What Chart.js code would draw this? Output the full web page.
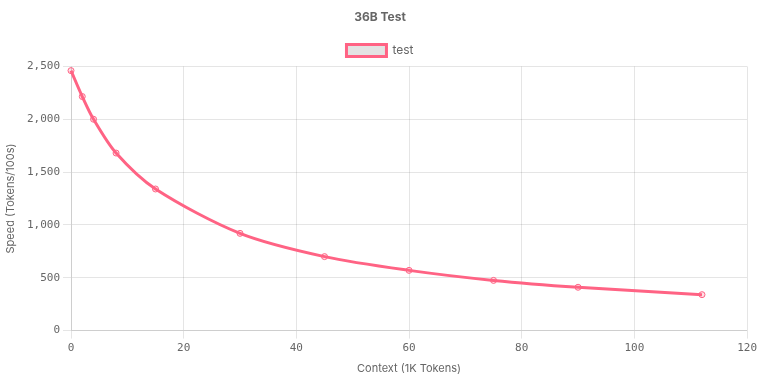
<!DOCTYPE html>
<html>
<head>
<meta charset="utf-8">
<script src="https://cdn.jsdelivr.net/npm/chart.js@4"></script>
<style>
  html, body { margin: 0; padding: 0; background: #fff; }
</style>
</head>
<body>
<canvas id="speedChart" width="760" height="380"></canvas>
<script>
const contextK = [0, 2, 4, 8, 15, 30, 45, 60, 75, 90, 112];
const speed = [2460, 2215, 2000, 1680, 1340, 920, 700, 570, 475, 410, 340];
const xTicks = [0, 20, 40, 60, 80, 100, 120];
const yTicks = [0, 500, 1000, 1500, 2000, 2500];

const pink = 'rgb(255, 99, 132)';
const monoFont = { family: '"DejaVu Sans Mono", monospace', size: 11 };

const ctx = document.getElementById("speedChart").getContext("2d");
new Chart(ctx, {
    type: "line",
    data: {
        datasets: [{
            label: "test",
            data: contextK.map((x, i) => ({ x: x, y: speed[i] })),
            borderColor: pink,
            backgroundColor: '#e3e3e3',
            borderWidth: 3,
            tension: 0.3,
            clip: false,
            pointRadius: 3,
            pointBorderWidth: 1,
            pointBackgroundColor: 'rgba(255, 99, 132, 0.2)',
            pointBorderColor: pink
        }]
    },
    options: {
        responsive: false,
        animation: false,
        layout: { padding: { left: 0, right: 0, top: 0, bottom: 1 } },
        plugins: {
            title: {
                display: true,
                text: "36B Test",
                color: '#666',
                font: { family: 'Inter', size: 12, weight: 'bold' },
                padding: { top: 10, bottom: 10 }
            },
            legend: {
                labels: {
                    color: '#666',
                    font: { family: 'Inter', size: 12 },
                    boxWidth: 40
                }
            }
        },
        scales: {
            x: {
                type: 'linear',
                min: xTicks[0],
                max: xTicks[xTicks.length - 1],
                afterBuildTicks: axis => { axis.ticks = xTicks.map(v => ({ value: v })); },
                ticks: { color: '#666', font: monoFont },
                title: { display: true, text: "Context (1K Tokens)", color: '#666', font: { family: 'Inter', size: 11 } }
            },
            y: {
                min: yTicks[0],
                max: yTicks[yTicks.length - 1],
                afterBuildTicks: axis => { axis.ticks = yTicks.map(v => ({ value: v })); },
                afterFit: axis => { axis.width = 71; },
                ticks: { color: '#666', font: monoFont },
                title: { display: true, text: "Speed (Tokens/100s)", color: '#666', font: { family: 'Inter', size: 11 } }
            }
        }
    }
});
</script>
</body>
</html>
